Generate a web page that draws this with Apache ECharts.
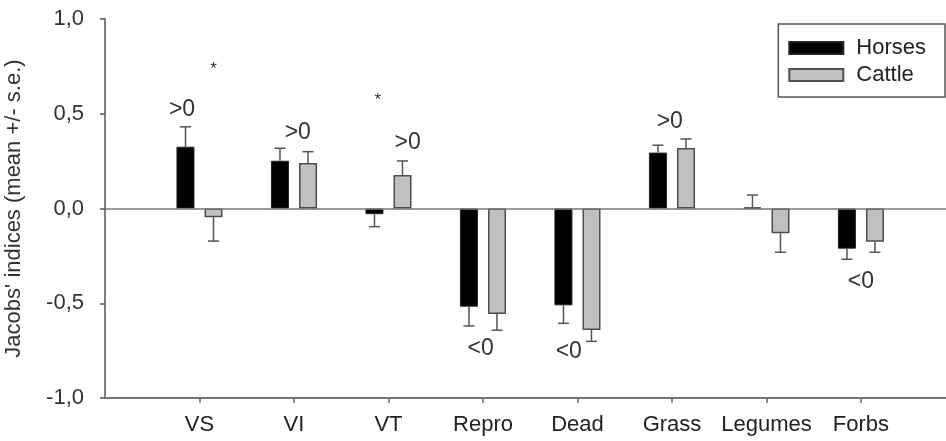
<!DOCTYPE html>
<html><head><meta charset="utf-8">
<script src="https://cdn.jsdelivr.net/npm/echarts@6/dist/echarts.min.js"></script>
<style>html,body{margin:0;padding:0;background:#fff}#c{width:946px;height:441px}</style>
</head><body><div id="c"></div>
<script>
const categories = ['VS', 'VI', 'VT', 'Repro', 'Dead', 'Grass', 'Legumes', 'Forbs'];
const horses   = [0.326, 0.252, -0.030, -0.518, -0.511, 0.295, 0.005, -0.212];
const horsesSE = [0.105, 0.066, 0.066, 0.102, 0.095, 0.039, 0.066, 0.056];
const cattle   = [-0.046, 0.240, 0.177, -0.557, -0.641, 0.319, -0.131, -0.175];
const cattleSE = [0.126, 0.060, 0.074, 0.085, 0.060, 0.048, 0.100, 0.056];
const yTicks = [-1, -0.5, 0, 0.5, 1];
// significance annotations (position on category axis, value, text)
const annoText = ['>0', '*', '>0', '*', '>0', '<0', '<0', '>0', '<0'];
const annoX    = [-0.185, 0.15, 1.04, 1.888, 2.203, 2.976, 3.908, 4.977, 7.0];
const annoY    = [0.52, 0.736, 0.40, 0.573, 0.348, -0.741, -0.755, 0.456, -0.385];

const FONT = "'Liberation Sans', Arial, sans-serif";
const chart = echarts.init(document.getElementById('c'));

function errorSeries(name, vals, ses, offset) {
  return {
    type: 'custom', name: name, silent: true, z: 3,
    data: vals.map((v, i) => [i, v, ses[i]]),
    renderItem(params, api) {
      const x = api.value(0), v = api.value(1), e = api.value(2);
      const end = v >= 0 ? v + e : v - e;
      const p0 = api.coord([x, v]), p1 = api.coord([x, end]);
      const cx = p0[0] + offset;
      const st = { stroke: '#555', lineWidth: 1.5 };
      return { type: 'group', children: [
        { type: 'line', shape: { x1: cx, y1: p0[1], x2: cx, y2: p1[1] }, style: st },
        { type: 'line', shape: { x1: cx - 5.5, y1: p1[1], x2: cx + 5.5, y2: p1[1] }, style: st }
      ] };
    }
  };
}

function annoSeries() {
  return {
    type: 'custom', name: 'notes', silent: true, z: 5,
    data: annoText.map((t, i) => [annoX[i], annoY[i], i]),
    renderItem(params, api) {
      const p = api.coord([api.value(0), api.value(1)]);
      const t = annoText[api.value(2)];
      return { type: 'text', x: p[0], y: p[1], style: {
        text: t, fill: '#333', font: (t === '*' ? 17 : 23) + 'px ' + FONT,
        align: 'center', verticalAlign: 'middle' } };
    }
  };
}

chart.setOption({
  animation: false,
  backgroundColor: '#fff',
  grid: { left: 105, right: 0, top: 19, height: 379, outerBoundsMode: 'none', containLabel: false },
  legend: {
    data: ['Horses', 'Cattle'], orient: 'vertical', right: 1, top: 24,
    itemWidth: 54, itemHeight: 12, itemGap: 5, icon: 'rect',
    padding: [13, 19, 11, 10], borderColor: '#555', borderWidth: 1.5, borderRadius: 0,
    backgroundColor: '#fff',
    textStyle: { fontSize: 22, lineHeight: 22, color: '#222', fontFamily: FONT, padding: [0, 0, 0, 8] }
  },
  xAxis: {
    type: 'value', min: -1, max: 7.9,
    axisLine: { show: true, onZero: false, lineStyle: { color: '#777', width: 2 } },
    axisTick: { show: true, length: 5, customValues: categories.map((c, i) => i), lineStyle: { color: '#666', width: 1.5 } },
    axisLabel: { customValues: categories.map((c, i) => i), formatter: v => categories[v] || '',
      margin: 16, fontSize: 22, color: '#222', fontFamily: FONT },
    splitLine: { show: false }
  },
  yAxis: {
    type: 'value', min: -1, max: 1, interval: 0.5,
    name: "Jacobs' indices (mean +/- s.e.)", nameLocation: 'middle', nameGap: 80,
    nameTextStyle: { fontSize: 22, color: '#333', fontFamily: FONT },
    axisLine: { show: true, onZero: false, lineStyle: { color: '#555', width: 1.5 } },
    axisTick: { show: true, length: 5, customValues: yTicks, lineStyle: { color: '#555', width: 1.5 } },
    axisLabel: { customValues: yTicks, formatter: v => v.toFixed(1).replace('.', ','),
      margin: 21, fontSize: 22, color: '#333', fontFamily: FONT },
    splitLine: { show: false }
  },
  series: [
    { type: 'bar', name: 'Horses', barWidth: 18, barGap: '56%', z: 2,
      data: horses.map((v, i) => [i, v]),
      itemStyle: { color: '#000', borderColor: '#222', borderWidth: 1 },
      markLine: { silent: true, symbol: 'none', label: { show: false },
        lineStyle: { color: '#777', width: 1.5, type: 'solid' }, data: [{ yAxis: 0 }] } },
    { type: 'bar', name: 'Cattle', barWidth: 18, barGap: '56%', z: 2,
      data: cattle.map((v, i) => [i, v]),
      itemStyle: { color: '#c0c0c0', borderColor: '#4d4d4d', borderWidth: 1.5 } },
    errorSeries('Horses s.e.', horses, horsesSE, -14),
    errorSeries('Cattle s.e.', cattle, cattleSE, 14),
    annoSeries()
  ]
});
</script></body></html>
